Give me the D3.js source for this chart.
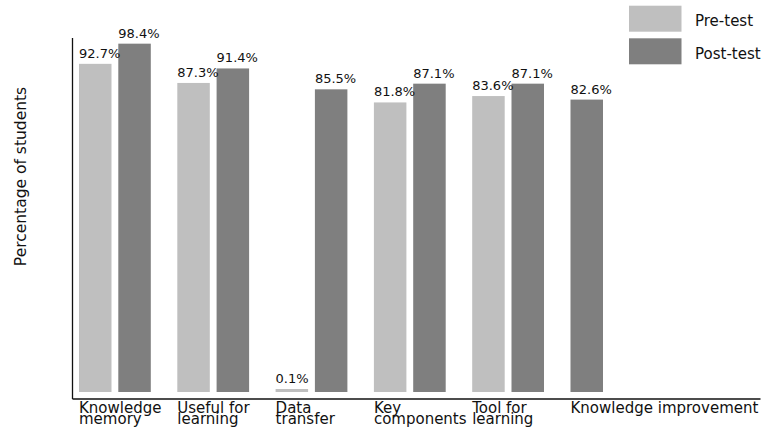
<!DOCTYPE html>
<html><head><meta charset="utf-8">
<script src="https://cdn.jsdelivr.net/npm/d3@7"></script>
<style>
html,body{margin:0;padding:0;background:#fff;}
svg{display:block;font-family:"DejaVu Sans",sans-serif;}
</style></head>
<body><svg id="chart" width="770" height="431"></svg>
<script>
const categories = [["Knowledge","memory"],["Useful for","learning"],["Data","transfer"],["Key","components"],["Tool for","learning"],["Knowledge improvement"]];
const preTest  = [92.7, 87.3, 0.1, 81.8, 83.6, null];
const postTest = [98.4, 91.4, 85.5, 87.1, 87.1, 82.6];
const seriesNames = ["Pre-test","Post-test"];
const colors = {"Pre-test":"#bfbfbf","Post-test":"#7f7f7f"};

const svg = d3.select("#chart");
const keys = categories.map(c => c.join(" "));

const x = d3.scaleBand().domain(keys).range([79, 668.8]).paddingInner(0).paddingOuter(0).align(0);
const xs = d3.scaleBand().domain(seriesNames).range([0, 71.8]).paddingInner(0.173).paddingOuter(0);
const y = d3.scaleLinear().domain([0, 100]).range([392, 38]);

const bars = [];
keys.forEach((k, i) => {
  if (preTest[i] != null) bars.push({k, s:"Pre-test", v:preTest[i], slot:"Pre-test"});
  if (postTest[i] != null) bars.push({k, s:"Post-test", v:postTest[i], slot: preTest[i] == null ? "Pre-test" : "Post-test"});
});

svg.append("g").selectAll("rect").data(bars).join("rect")
  .attr("x", d => x(d.k) + xs(d.slot))
  .attr("width", xs.bandwidth())
  .attr("y", d => Math.min(y(d.v), y(0) - 3))
  .attr("height", d => Math.max(y(0) - y(d.v), 3))
  .attr("fill", d => colors[d.s]);

svg.append("g").selectAll("text").data(bars).join("text")
  .attr("x", d => x(d.k) + xs(d.slot))
  .attr("y", d => Math.min(y(d.v), y(0) - 3) - 6)
  .attr("font-size", 13)
  .attr("fill", "#111")
  .text(d => d.v.toFixed(1) + "%");

// axes lines
const yAxis = d3.axisLeft(y).tickValues([]).tickSize(0);
svg.append("g").attr("transform","translate(72.5,0)").call(yAxis)
  .call(g => g.select(".domain").attr("stroke","#111").attr("stroke-width",1.3).attr("d","M0,38V399"));
const xAxisScale = d3.scaleLinear().domain([0,1]).range([72, 760]);
svg.append("g").attr("transform","translate(0,398.5)").call(d3.axisBottom(xAxisScale).tickValues([]).tickSize(0))
  .call(g => g.select(".domain").attr("stroke","#111").attr("stroke-width",1.3));

// category labels
const lab = svg.append("g").selectAll("text").data(categories).join("text")
  .attr("x", (d,i) => x(keys[i]))
  .attr("y", 413)
  .attr("font-size", 15)
  .attr("fill", "#111");
lab.each(function(d){
  const t = d3.select(this);
  d.forEach((line, j) => t.append("tspan").attr("x", t.attr("x")).attr("dy", j === 0 ? 0 : 11).text(line));
});

// y label
svg.append("text").attr("transform","translate(26,176.5) rotate(-90)")
  .attr("text-anchor","middle").attr("font-size",15.5).attr("fill","#111")
  .text("Percentage of students");

// legend
const leg = svg.append("g").selectAll("g").data(seriesNames).join("g")
  .attr("transform", (d,i) => `translate(629,${5.7 + i*32.6})`);
leg.append("rect").attr("width",52.5).attr("height",26).attr("fill", d => colors[d]);
leg.append("text").attr("x",66).attr("y",20.3).attr("font-size",15).attr("fill","#111").text(d => d);
</script></body></html>
